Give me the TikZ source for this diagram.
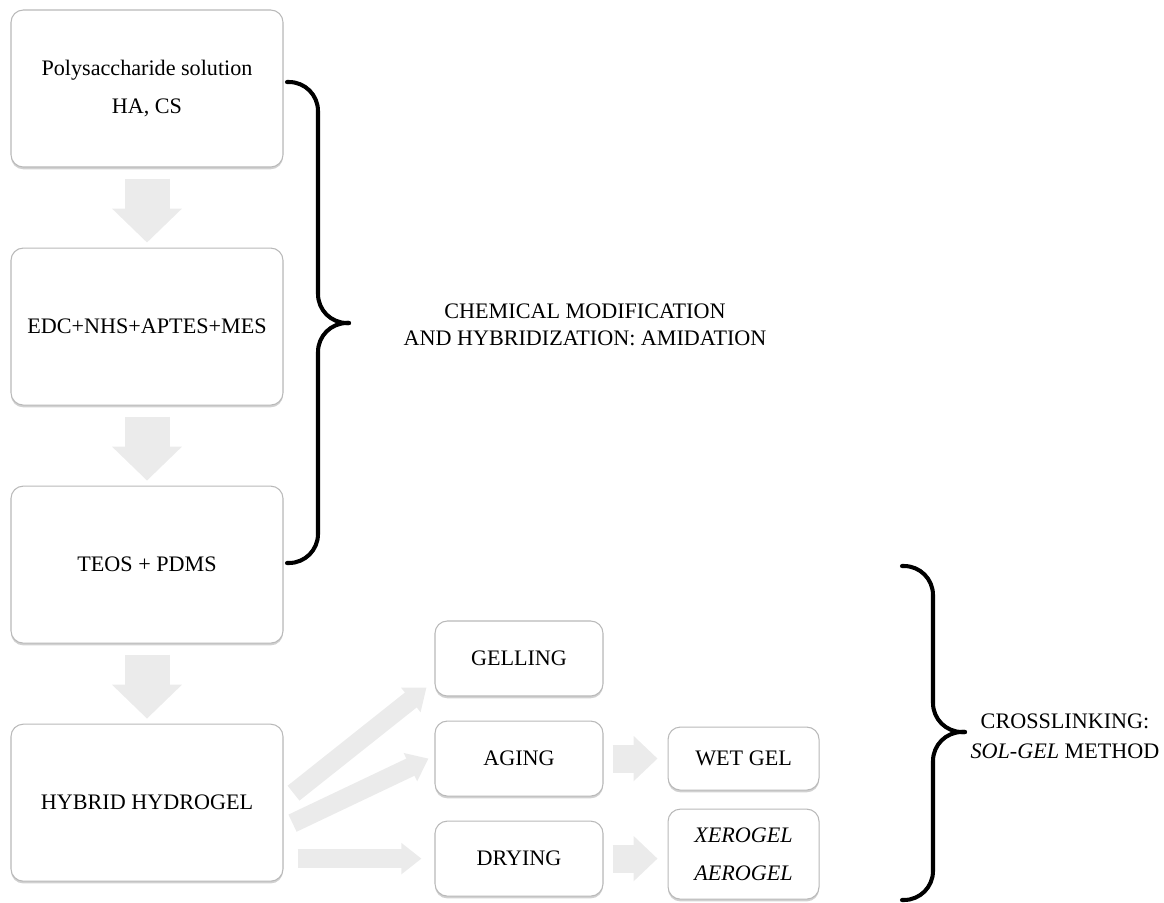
\documentclass[tikz,border=0pt]{standalone}
\usepackage{fontspec}
\setmainfont{Liberation Serif}
\usepackage{tikz}
\usetikzlibrary{positioning, calc, arrows.meta, shadows}

\tikzset{
  stepbox/.style={draw=gray!55, line width=0.6pt, fill=white, rounded corners=7pt, align=center,
    drop shadow={shadow xshift=0pt, shadow yshift=-1.3pt, opacity=0.45, fill=gray!80},
    font=\fontsize{12.6}{21.5}\selectfont},
  bigbox/.style={stepbox, minimum width=5.44cm, minimum height=3.14cm},
  smallbox/.style={stepbox, minimum width=3.36cm, minimum height=1.5cm},
  downarrow/.style={line width=0.9cm, gray!16, -{Triangle[width=1.36cm, length=0.68cm]},
    shorten <=0.22cm, shorten >=0.1cm},
  sidearrow/.style={line width=0.56cm, gray!16, -{Triangle[width=0.88cm, length=0.48cm]},
    shorten <=0.18cm, shorten >=0.2cm},
  thinarrow/.style={line width=0.38cm, gray!16, -{Triangle[width=0.6cm, length=0.4cm]}},
  bracket/.style={line width=2.3pt, line cap=round, rounded corners=0.58cm},
  bracetext/.style={align=center, font=\fontsize{12.6}{15.5}\selectfont}
}

\begin{document}
\begin{tikzpicture}
  \useasboundingbox (0,0) rectangle (23.28,-18.06);

  % main column
  \node [bigbox] (poly) at (2.94,-1.77) {Polysaccharide solution\\HA, CS};
  \node [bigbox, below=1.6cm of poly] (edc) {EDC+NHS+APTES+MES};
  \node [bigbox, below=1.6cm of edc] (teos) {TEOS + PDMS};
  \node [bigbox, below=1.6cm of teos] (hyb) {HYBRID HYDROGEL};

  % sol-gel steps
  \node [smallbox] (gel) at (10.38,-13.17) {GELLING};
  \node [smallbox, below=0.48cm of gel] (age) {AGING};
  \node [smallbox, below=0.48cm of age] (dry) {DRYING};
  \node [smallbox, minimum width=3.02cm, minimum height=1.26cm, right=1.28cm of age] (wet) {WET GEL};
  \node [smallbox, minimum width=3.02cm, minimum height=1.8cm, below=0.36cm of wet] (xero)
    {\textit{XEROGEL}\\\textit{AEROGEL}};

  \draw [downarrow] (poly) -- (edc);
  \draw [downarrow] (edc) -- (teos);
  \draw [downarrow] (teos) -- (hyb);

  \draw [thinarrow] ($(hyb.east)+(0.2,0.19)$) -- ($(gel.south west)+(-0.16,0.18)$);
  \draw [thinarrow] ($(hyb.east)+(0.18,-0.41)$) -- ($(age.west)+(-0.12,0)$);
  \draw [thinarrow] ($(hyb.east |- dry.west)+(0.28,0)$) -- ($(dry.west)+(-0.26,0)$);
  \draw [sidearrow] (age) -- (wet);
  \draw [sidearrow] (dry.east) -- (dry.east -| xero.west);

  % braces
  \coordinate (tipA) at (6.98,-6.46);
  \coordinate (tipB) at (19.3,-14.64);
  \draw [bracket] (5.74,-1.64) -- (6.36,-1.64) -- (6.36,-6.46) -- (tipA);
  \draw [bracket] (tipA) -- (6.36,-6.46) -- (6.36,-11.26) -- (5.74,-11.26);
  \draw [bracket] (18.04,-11.32) -- (18.66,-11.32) -- (18.66,-14.64) -- (tipB);
  \draw [bracket] (tipB) -- (18.66,-14.64) -- (18.66,-18.0) -- (18.04,-18.0);
  \node [bracetext] (amid) at (11.7,-6.5) {CHEMICAL MODIFICATION\\AND HYBRIDIZATION: AMIDATION};
  \node [bracetext, font=\fontsize{12.6}{17}\selectfont] (cross) at (21.3,-14.72) {CROSSLINKING:\\\textit{SOL-GEL} METHOD};
\end{tikzpicture}
\end{document}
